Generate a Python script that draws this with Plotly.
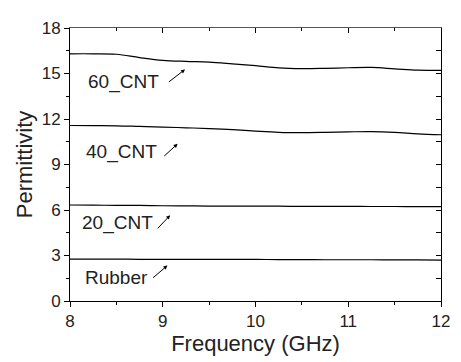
import plotly.graph_objects as go

freq = [8.0, 8.25, 8.5, 8.75, 9.0, 9.25, 9.5, 9.75, 10.0, 10.25, 10.5, 10.75, 11.0, 11.25, 11.5, 11.75, 12.0]
cnt60 = [16.30, 16.30, 16.27, 16.05, 15.87, 15.80, 15.75, 15.64, 15.52, 15.37, 15.32, 15.34, 15.38, 15.40, 15.31, 15.22, 15.20]
cnt40 = [11.57, 11.56, 11.55, 11.51, 11.47, 11.42, 11.37, 11.30, 11.20, 11.12, 11.10, 11.12, 11.15, 11.17, 11.12, 11.02, 10.96]
cnt20 = [6.33, 6.32, 6.31, 6.30, 6.28, 6.27, 6.26, 6.26, 6.25, 6.25, 6.24, 6.24, 6.24, 6.23, 6.23, 6.22, 6.22]
rubber = [2.76, 2.76, 2.76, 2.75, 2.75, 2.75, 2.74, 2.74, 2.74, 2.73, 2.73, 2.72, 2.72, 2.72, 2.71, 2.71, 2.70]

series = [("60_CNT", cnt60), ("40_CNT", cnt40), ("20_CNT", cnt20), ("Rubber", rubber)]
label_x = [8.58, 8.55, 8.51, 8.50]
label_y = [14.44, 9.85, 5.16, 1.57]
arrow_tail_x = [9.05, 9.00, 8.93, 8.88]
arrow_tail_y = [14.37, 9.47, 4.69, 1.45]
arrow_head_x = [9.24, 9.16, 9.08, 9.05]
arrow_head_y = [15.27, 10.36, 5.65, 2.34]

FONT = "Liberation Sans, Arial, sans-serif"
TXT = "#222"

fig = go.Figure()
for name, vals in series:
    fig.add_trace(go.Scatter(x=freq, y=vals, mode="lines", name=name,
                             line=dict(color="black", width=1.2, shape="spline"),
                             showlegend=False))

# invisible trace on the mirror axes
fig.add_trace(go.Scatter(x=[8, 12], y=[0, 18], xaxis="x2", yaxis="y2",
                         mode="markers", marker=dict(opacity=0), showlegend=False,
                         hoverinfo="skip"))

for i, (name, _) in enumerate(series):
    fig.add_annotation(x=label_x[i], y=label_y[i], text=name, showarrow=False,
                       font=dict(family=FONT, size=19, color=TXT),
                       xanchor="center", yanchor="middle")
    fig.add_annotation(x=arrow_head_x[i], y=arrow_head_y[i],
                       ax=arrow_tail_x[i], ay=arrow_tail_y[i],
                       axref="x", ayref="y", xref="x", yref="y",
                       text="", showarrow=True, arrowhead=2, arrowsize=0.8,
                       arrowwidth=1, arrowcolor="black")

axis_common = dict(showgrid=False, zeroline=False, showline=True,
                   linecolor="black", linewidth=1)

# page body has an 8px default margin: size the figure so the plot area lands in place
fig.update_layout(
    width=453, height=354,
    margin=dict(l=62, r=11, t=12, b=59),
    plot_bgcolor="white", paper_bgcolor="white",
    font=dict(family=FONT, color=TXT),
    xaxis=dict(range=[8, 12], dtick=1, tick0=8, ticks="outside", ticklen=5,
               tickcolor="black", tickwidth=1,
               minor=dict(dtick=0.5, ticks="outside", ticklen=3, tickcolor="black"),
               tickfont=dict(size=17, family=FONT, color=TXT),
               title=dict(text="Frequency (GHz)", font=dict(size=22, family=FONT, color=TXT),
                          standoff=4),
               **axis_common),
    yaxis=dict(range=[0, 18], dtick=3, tick0=0, ticks="outside", ticklen=5,
               tickcolor="black", tickwidth=1,
               minor=dict(dtick=1.5, ticks="outside", ticklen=3, tickcolor="black"),
               tickfont=dict(size=17, family=FONT, color=TXT),
               title=dict(text="Permittivity", font=dict(size=22, family=FONT, color=TXT),
                          standoff=2),
               **axis_common),
    xaxis2=dict(range=[8, 12], dtick=1, tick0=8, overlaying="x", side="top",
                ticks="inside", ticklen=5, tickcolor="black", showticklabels=False,
                minor=dict(dtick=0.5, ticks="inside", ticklen=3, tickcolor="black"),
                anchor="y2", showgrid=False, zeroline=False, showline=True,
                linecolor="#555", linewidth=1),
    yaxis2=dict(range=[0, 18], dtick=3, tick0=0, overlaying="y", side="right",
                ticks="inside", ticklen=5, tickcolor="black", showticklabels=False,
                minor=dict(dtick=1.5, ticks="inside", ticklen=5, tickcolor="black"),
                anchor="x2", showgrid=False, zeroline=False, showline=True,
                linecolor="black", linewidth=1),
)

fig.write_html("out.html", config={"displayModeBar": False})
